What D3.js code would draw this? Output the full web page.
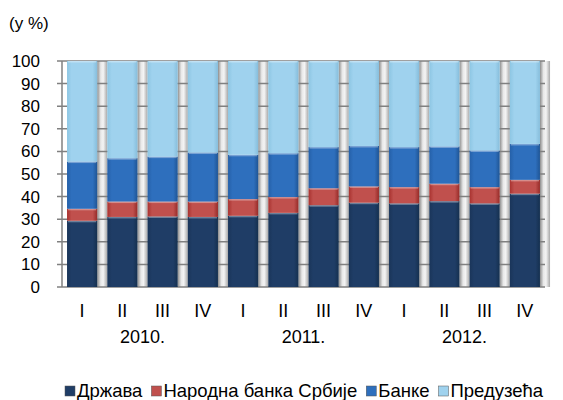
<!DOCTYPE html>
<html>
<head>
<meta charset="utf-8">
<title>Structure</title>
<script src="https://cdnjs.cloudflare.com/ajax/libs/d3/7.8.5/d3.min.js"></script>
<style>
  body { margin: 0; background: #fff; }
  svg text { font-family: "Liberation Sans", Arial, sans-serif; fill: #000; }
</style>
</head>
<body>
<div id="chart"></div>
<script>
  // data
  var quarters = ["I", "II", "III", "IV", "I", "II", "III", "IV", "I", "II", "III", "IV"];
  var years = ["2010.", "2011.", "2012."];
  var seriesNames = ["Држава", "Народна банка Србије", "Банке", "Предузећа"];
  var drzava  = [29.3, 31.0, 31.2, 31.0, 31.5, 32.8, 36.2, 37.3, 37.0, 38.0, 37.0, 41.3];
  var nbs     = [5.3, 6.8, 6.6, 6.8, 7.4, 7.0, 7.5, 7.2, 7.2, 7.7, 7.2, 6.1];
  var banke   = [20.9, 19.2, 19.9, 21.7, 19.6, 19.4, 18.2, 17.9, 17.7, 16.5, 16.2, 15.9];
  var preduzeca = drzava.map(function(d, i) { return +(100 - d - nbs[i] - banke[i]).toFixed(1); });
  var yTicks = [0, 10, 20, 30, 40, 50, 60, 70, 80, 90, 100];

  var colors = [
    ["#1a3559", "#1f3d66", "#15304f"],
    ["#a8322f", "#c0504d", "#962b28"],
    ["#2560a8", "#2e6fbd", "#1f5595"],
    ["#8dc6e3", "#9fd2ee", "#86bddb"]
  ];

  var width = 563, height = 400;
  var x0 = 62, x1 = 545, yTop = 61, yBot = 287;

  var svg = d3.select("#chart").append("svg")
    .attr("width", width).attr("height", height);

  var defs = svg.append("defs");
  colors.forEach(function(c, i) {
    var g = defs.append("linearGradient").attr("id", "g" + i)
      .attr("x1", "0").attr("x2", "1").attr("y1", "0").attr("y2", "0");
    g.append("stop").attr("offset", "0").attr("stop-color", c[0]);
    g.append("stop").attr("offset", "0.15").attr("stop-color", c[1]);
    g.append("stop").attr("offset", "0.85").attr("stop-color", c[1]);
    g.append("stop").attr("offset", "1").attr("stop-color", c[2]);
  });
  var sg = defs.append("linearGradient").attr("id", "gap")
    .attr("x1", "0").attr("x2", "1").attr("y1", "0").attr("y2", "0");
  sg.append("stop").attr("offset", "0").attr("stop-color", "#8c8c8c");
  sg.append("stop").attr("offset", "0.35").attr("stop-color", "#e8e8e8");
  sg.append("stop").attr("offset", "0.6").attr("stop-color", "#f4f4f4");
  sg.append("stop").attr("offset", "1").attr("stop-color", "#a8a8a8");

  var x = d3.scaleBand().domain(d3.range(quarters.length)).range([x0, x1])
    .paddingInner(0.25).paddingOuter(0.125);
  var y = d3.scaleLinear().domain([0, 100]).range([yBot, yTop]);

  // gap shading between bars
  svg.append("g").selectAll("rect").data(d3.range(quarters.length))
    .join("rect")
    .attr("x", function(i) { return x(i) + x.bandwidth(); })
    .attr("y", yTop)
    .attr("width", x.step() - x.bandwidth())
    .attr("height", yBot - yTop)
    .attr("fill", "url(#gap)");

  // gridlines
  svg.append("g").selectAll("line").data(yTicks).join("line")
    .attr("x1", x0 - 5).attr("x2", x1)
    .attr("y1", function(d) { return y(d); })
    .attr("y2", function(d) { return y(d); })
    .attr("stroke", "#808080").attr("stroke-width", 1.5);

  // left axis line
  svg.append("line").attr("x1", x0).attr("x2", x0)
    .attr("y1", yTop).attr("y2", yBot)
    .attr("stroke", "#808080").attr("stroke-width", 1.5);

  // stacked bars
  var rows = quarters.map(function(q, i) {
    return { i: i, v0: drzava[i], v1: nbs[i], v2: banke[i], v3: preduzeca[i] };
  });
  var stack = d3.stack().keys(["v0", "v1", "v2", "v3"])(rows);

  var layers = svg.append("g").selectAll("g").data(stack).join("g");
  layers.each(function(layer, k) {
    var gsel = d3.select(this);
    gsel.selectAll("rect.seg").data(layer).join("rect")
      .attr("class", "seg")
      .attr("x", function(d) { return x(d.data.i); })
      .attr("y", function(d) { return y(d[1]); })
      .attr("width", x.bandwidth())
      .attr("height", function(d) { return y(d[0]) - y(d[1]); })
      .attr("fill", "url(#g" + k + ")");
    // glossy top edge
    gsel.selectAll("rect.hi").data(layer).join("rect")
      .attr("class", "hi")
      .attr("x", function(d) { return x(d.data.i) + 1; })
      .attr("y", function(d) { return y(d[1]); })
      .attr("width", x.bandwidth() - 2)
      .attr("height", 1.5)
      .attr("fill", "#ffffff").attr("opacity", 0.35);
  });

  // y tick labels
  svg.append("g").selectAll("text").data(yTicks).join("text")
    .attr("x", 40).attr("y", function(d) { return y(d) + 6; })
    .attr("text-anchor", "end").attr("font-size", 17)
    .text(function(d) { return d; });

  svg.append("text").attr("x", 9).attr("y", 29).attr("font-size", 17).text("(у %)");

  // quarter labels
  svg.append("g").selectAll("text").data(quarters).join("text")
    .attr("x", function(d, i) { return x(i) + x.bandwidth() / 2; })
    .attr("y", 317).attr("text-anchor", "middle").attr("font-size", 18)
    .text(function(d) { return d; });

  // year labels
  svg.append("g").selectAll("text").data(years).join("text")
    .attr("x", function(d, k) { return (x(k * 4) + x(k * 4 + 3) + x.bandwidth()) / 2; })
    .attr("y", 343).attr("text-anchor", "middle").attr("font-size", 18)
    .text(function(d) { return d; });

  // legend
  var legend = svg.append("g").attr("transform", "translate(0,397)");
  var lx = 65;
  seriesNames.forEach(function(name, k) {
    legend.append("rect").attr("x", lx).attr("y", -11).attr("width", 10).attr("height", 10)
      .attr("fill", colors[k][1]).attr("stroke", "#555").attr("stroke-width", 0.5);
    var t = legend.append("text").attr("x", lx + 12).attr("y", 0).attr("font-size", 18.5).text(name);
    lx += 12 + t.node().getComputedTextLength() + 9;
  });
</script>
</body>
</html>
